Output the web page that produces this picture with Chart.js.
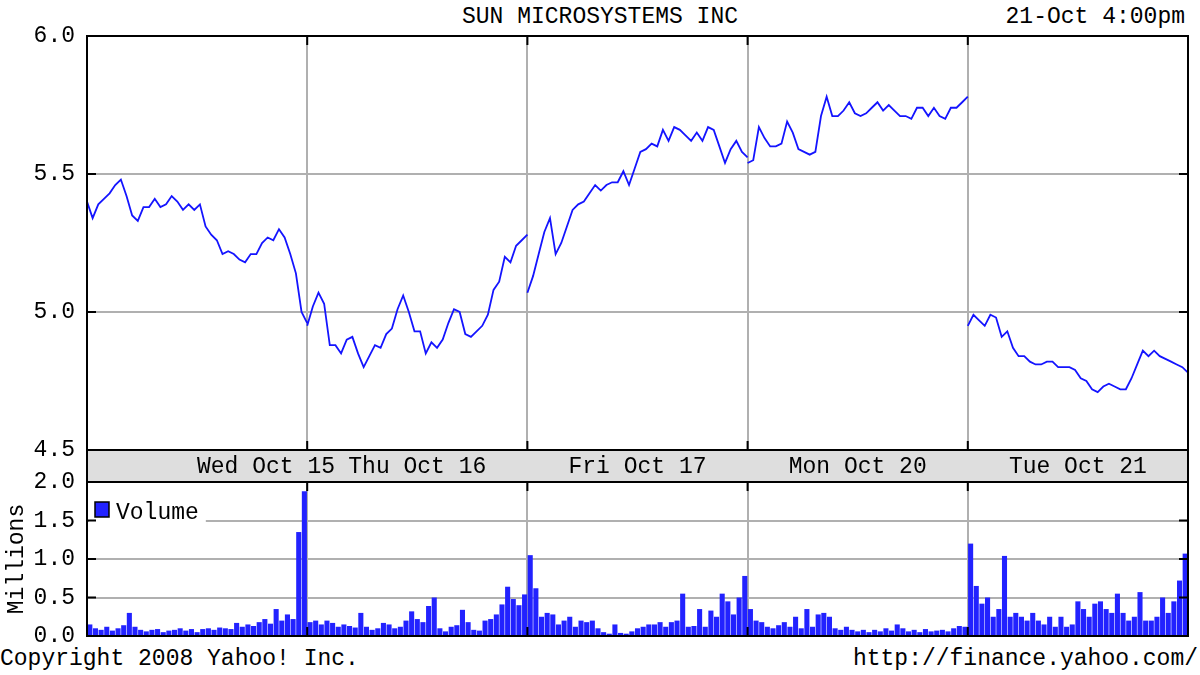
<!DOCTYPE html>
<html>
<head>
<meta charset="utf-8">
<script src="https://cdn.jsdelivr.net/npm/chart.js@4.4.1/dist/chart.umd.min.js"></script>
<style>
  body { margin: 0; background: #fff; width: 1200px; height: 675px; position: relative; overflow: hidden;
         font-family: 'Liberation Mono', 'DejaVu Sans Mono', monospace; font-size: 23px; color: #000; }
  .txt { position: absolute; line-height: 26px; white-space: pre; }
  canvas { position: absolute; left: 0; }
</style>
</head>
<body>
<div class="txt" id="title" style="top:4px; left:0; width:1200px; text-align:center;"></div>
<div class="txt" id="stamp" style="top:4px; right:15px;"></div>
<div class="txt" id="copy" style="top:646px; left:0;"></div>
<div class="txt" id="url" style="top:646px; right:2px;"></div>
<canvas id="price" width="1200" height="482" style="top:0"></canvas>
<canvas id="volume" width="1200" height="225" style="top:450px"></canvas>
<script>
const chartTitle = 'SUN MICROSYSTEMS INC';
const stampText = '21-Oct 4:00pm';
const copyText = 'Copyright 2008 Yahoo! Inc.';
const urlText = 'http://finance.yahoo.com/';

// one trading session = 390 minutes, samples every 10 minutes
const SESSION = 390;
const STEP = 10;

const dayLabels = ['Wed Oct 15', 'Thu Oct 16', 'Fri Oct 17', 'Mon Oct 20', 'Tue Oct 21'];
const dayLabelTicks = [317, 585, 975, 1365, 1755];
const priceTicks = [4.5, 5.0, 5.5, 6.0];
const volumeTicks = [0, 0.5, 1.0, 1.5, 2.0];

// price per 10 min, open to close
const wedPrice = [5.40, 5.34, 5.39, 5.41, 5.43, 5.46, 5.48, 5.42, 5.35, 5.33, 5.38, 5.38, 5.41, 5.38, 5.39, 5.42, 5.40, 5.37, 5.39, 5.37,
  5.39, 5.31, 5.28, 5.26, 5.21, 5.22, 5.21, 5.19, 5.18, 5.21, 5.21, 5.25, 5.27, 5.26, 5.30, 5.27, 5.21, 5.14, 5.00, 4.96];
const thuPrice = [4.95, 5.02, 5.07, 5.03, 4.88, 4.88, 4.85, 4.90, 4.91, 4.85, 4.80, 4.84, 4.88, 4.87, 4.92, 4.94, 5.01, 5.06, 5.00, 4.93,
  4.93, 4.85, 4.89, 4.87, 4.90, 4.96, 5.01, 5.00, 4.92, 4.91, 4.93, 4.95, 4.99, 5.08, 5.11, 5.20, 5.18, 5.24, 5.26, 5.28];
const friPrice = [5.07, 5.13, 5.21, 5.29, 5.34, 5.21, 5.25, 5.31, 5.37, 5.39, 5.40, 5.43, 5.46, 5.44, 5.46, 5.47, 5.47, 5.51, 5.46, 5.52,
  5.58, 5.59, 5.61, 5.60, 5.66, 5.62, 5.67, 5.66, 5.64, 5.62, 5.65, 5.62, 5.67, 5.66, 5.60, 5.54, 5.59, 5.62, 5.58, 5.56];
const monPrice = [5.54, 5.55, 5.67, 5.63, 5.60, 5.60, 5.61, 5.69, 5.65, 5.59, 5.58, 5.57, 5.58, 5.71, 5.78, 5.71, 5.71, 5.73, 5.76, 5.72,
  5.71, 5.72, 5.74, 5.76, 5.73, 5.75, 5.73, 5.71, 5.71, 5.70, 5.74, 5.74, 5.71, 5.74, 5.71, 5.70, 5.74, 5.74, 5.76, 5.78];
const tuePrice = [4.95, 4.99, 4.97, 4.95, 4.99, 4.98, 4.91, 4.93, 4.87, 4.84, 4.84, 4.82, 4.81, 4.81, 4.82, 4.82, 4.80, 4.80, 4.80, 4.79,
  4.76, 4.75, 4.72, 4.71, 4.73, 4.74, 4.73, 4.72, 4.72, 4.76, 4.81, 4.86, 4.84, 4.86, 4.84, 4.83, 4.82, 4.81, 4.80, 4.78];

// volume (millions) per 10 min bucket
const wedVol = [0.15, 0.10, 0.08, 0.12, 0.07, 0.10, 0.14, 0.30, 0.12, 0.08, 0.06, 0.08, 0.09, 0.05, 0.07, 0.08, 0.10, 0.07, 0.09, 0.05,
  0.09, 0.10, 0.08, 0.11, 0.10, 0.09, 0.17, 0.12, 0.15, 0.13, 0.18, 0.22, 0.16, 0.35, 0.20, 0.28, 0.22, 1.35, 1.88];
const thuVol = [0.18, 0.20, 0.15, 0.20, 0.17, 0.12, 0.15, 0.13, 0.11, 0.30, 0.12, 0.08, 0.10, 0.17, 0.15, 0.10, 0.12, 0.20, 0.32, 0.22,
  0.18, 0.39, 0.50, 0.10, 0.06, 0.12, 0.14, 0.34, 0.18, 0.08, 0.07, 0.20, 0.22, 0.28, 0.41, 0.64, 0.48, 0.40, 0.54];
const friVol = [1.05, 0.62, 0.25, 0.30, 0.28, 0.15, 0.20, 0.25, 0.12, 0.20, 0.18, 0.20, 0.10, 0.05, 0.03, 0.15, 0.04, 0.03, 0.06, 0.10,
  0.12, 0.15, 0.15, 0.18, 0.12, 0.18, 0.20, 0.55, 0.12, 0.13, 0.35, 0.12, 0.33, 0.25, 0.55, 0.45, 0.28, 0.50, 0.78];
const monVol = [0.35, 0.20, 0.18, 0.12, 0.10, 0.14, 0.18, 0.12, 0.25, 0.10, 0.35, 0.12, 0.28, 0.30, 0.25, 0.10, 0.08, 0.12, 0.08, 0.06,
  0.08, 0.05, 0.08, 0.06, 0.10, 0.07, 0.15, 0.10, 0.06, 0.08, 0.05, 0.09, 0.06, 0.07, 0.08, 0.06, 0.10, 0.13, 0.12];
const tueVol = [1.20, 0.65, 0.42, 0.50, 0.25, 0.35, 1.04, 0.25, 0.30, 0.25, 0.20, 0.30, 0.20, 0.15, 0.25, 0.12, 0.25, 0.12, 0.15, 0.45,
  0.35, 0.25, 0.42, 0.45, 0.35, 0.30, 0.55, 0.30, 0.20, 0.25, 0.57, 0.20, 0.20, 0.25, 0.50, 0.30, 0.45, 0.72, 1.07];

const priceDays = [wedPrice, thuPrice, friPrice, monPrice, tuePrice];
const volumeDays = [wedVol, thuVol, friVol, monVol, tueVol];
const TOTAL = SESSION * priceDays.length;

document.getElementById('title').textContent = chartTitle;
document.getElementById('stamp').textContent = stampText;
document.getElementById('copy').textContent = copyText;
document.getElementById('url').textContent = urlText;

const priceData = [];
priceDays.forEach((day, d) => {
  day.forEach((v, k) => priceData.push({ x: d * SESSION + k * STEP, y: v }));
  priceData.push({ x: (d + 1) * SESSION, y: null });   // break the line between sessions
});

const volumeData = [];
volumeDays.forEach((day, d) => {
  day.forEach((v, k) => volumeData.push({ x: d * SESSION + k * STEP + STEP / 2, y: v }));
});

const monoFont = { family: "'Liberation Mono', 'DejaVu Sans Mono', monospace", size: 23 };
const gridColor = '#b0b0b0';
const lineBlue = '#1414ff';
const barBlue = '#2222ff';

Chart.defaults.animation = false;
Chart.defaults.font = monoFont;
Chart.defaults.color = '#000';

// black frame + short inward tick marks, like the old yahoo charts
const framePlugin = {
  id: 'frame',
  afterDraw(chart) {
    const { ctx, chartArea: a, scales } = chart;
    ctx.save();
    ctx.strokeStyle = '#000';
    ctx.lineWidth = 2;
    ctx.strokeRect(a.left, a.top, a.width, a.height);
    ctx.beginPath();
    scales.y.ticks.forEach(t => {
      const py = scales.y.getPixelForValue(t.value);
      ctx.moveTo(a.left, py); ctx.lineTo(a.left + 9, py);
      ctx.moveTo(a.right, py); ctx.lineTo(a.right - 9, py);
    });
    scales.x.ticks.forEach(t => {
      const px = scales.x.getPixelForValue(t.value);
      ctx.moveTo(px, a.top); ctx.lineTo(px, a.top + 9);
      ctx.moveTo(px, a.bottom); ctx.lineTo(px, a.bottom - 9);
    });
    ctx.stroke();
    ctx.restore();
  }
};

const bandPlugin = {
  id: 'band',
  beforeDraw(chart) {
    const { ctx, chartArea: a } = chart;
    const s = chart.scales.days;
    ctx.save();
    ctx.fillStyle = '#dedede';
    ctx.fillRect(a.left, s.top, a.width, s.height);
    ctx.strokeStyle = '#000';
    ctx.lineWidth = 2;
    ctx.strokeRect(a.left, s.top, a.width, s.height);
    ctx.restore();
  }
};

const volumeLegend = {
  id: 'volumeLegend',
  afterDatasetsDraw(chart) {
    const { ctx, chartArea: a } = chart;
    const label = chart.data.datasets[0].label;
    ctx.save();
    ctx.font = "23px 'Liberation Mono', 'DejaVu Sans Mono', monospace";
    const w = ctx.measureText(label).width;
    ctx.fillStyle = '#fff';
    ctx.fillRect(a.left + 2, a.top + 17, w + 34, 26);
    ctx.fillStyle = barBlue;
    ctx.fillRect(a.left + 8, a.top + 20, 14, 15);
    ctx.strokeStyle = '#000';
    ctx.lineWidth = 1.5;
    ctx.strokeRect(a.left + 8, a.top + 20, 14, 15);
    ctx.fillStyle = '#000';
    ctx.textBaseline = 'middle';
    ctx.fillText(label, a.left + 29, a.top + 31);
    ctx.restore();
  }
};

new Chart(document.getElementById('price'), {
  type: 'line',
  data: {
    datasets: [{
      label: 'Price',
      data: priceData,
      borderColor: lineBlue,
      borderWidth: 1.8,
      pointRadius: 0,
      tension: 0,
      spanGaps: false
    }]
  },
  options: {
    responsive: false,
    layout: { padding: { top: 36, right: 12, left: 0, bottom: 0 } },
    plugins: { legend: { display: false }, tooltip: { enabled: false } },
    scales: {
      x: {
        type: 'linear', position: 'bottom', min: 0, max: TOTAL,
        ticks: { display: false, stepSize: SESSION },
        grid: { color: gridColor, lineWidth: 2, drawTicks: false },
        border: { display: false },
        afterFit: s => { s.height = 0; }
      },
      days: {
        type: 'linear', position: 'bottom', min: 0, max: TOTAL,
        grid: { display: false, drawTicks: false },
        border: { display: false },
        afterBuildTicks: s => { s.ticks = dayLabelTicks.map(v => ({ value: v })); },
        afterFit: s => { s.height = 32; },
        ticks: { callback: (v, i) => dayLabels[i], autoSkip: false, maxRotation: 0, padding: 3, font: monoFont, color: '#000' }
      },
      y: {
        min: 4.5, max: 6.0,
        afterBuildTicks: s => { s.ticks = priceTicks.map(v => ({ value: v })); },
        ticks: { callback: v => v.toFixed(1), padding: 12, font: monoFont, color: '#000' },
        grid: { color: gridColor, lineWidth: 2, drawTicks: false },
        border: { display: false },
        afterFit: s => { s.width = 87; }
      }
    }
  },
  plugins: [bandPlugin, framePlugin]
});

new Chart(document.getElementById('volume'), {
  type: 'bar',
  data: {
    datasets: [{
      label: 'Volume',
      data: volumeData,
      backgroundColor: barBlue,
      borderWidth: 0,
      barPercentage: 1,
      categoryPercentage: 0.9
    }]
  },
  options: {
    responsive: false,
    layout: { padding: { top: 32, right: 12, left: 0, bottom: 39 } },
    plugins: { legend: { display: false }, tooltip: { enabled: false } },
    scales: {
      x: {
        type: 'linear', position: 'bottom', min: 0, max: TOTAL,
        offset: false,
        ticks: { display: false, stepSize: SESSION },
        grid: { color: gridColor, lineWidth: 2, drawTicks: false, offset: false },
        border: { display: false },
        afterFit: s => { s.height = 0; }
      },
      y: {
        min: 0, max: 2.0,
        afterBuildTicks: s => { s.ticks = volumeTicks.map(v => ({ value: v })); },
        ticks: { callback: v => v.toFixed(1), padding: 12, font: monoFont, color: '#000' },
        grid: { color: gridColor, lineWidth: 2, drawTicks: false },
        border: { display: false },
        title: { display: true, text: 'Millions', font: monoFont, color: '#000', padding: { top: 3, bottom: 0 } },
        afterFit: s => { s.width = 87; }
      }
    }
  },
  plugins: [framePlugin, volumeLegend]
});
</script>
</body>
</html>
